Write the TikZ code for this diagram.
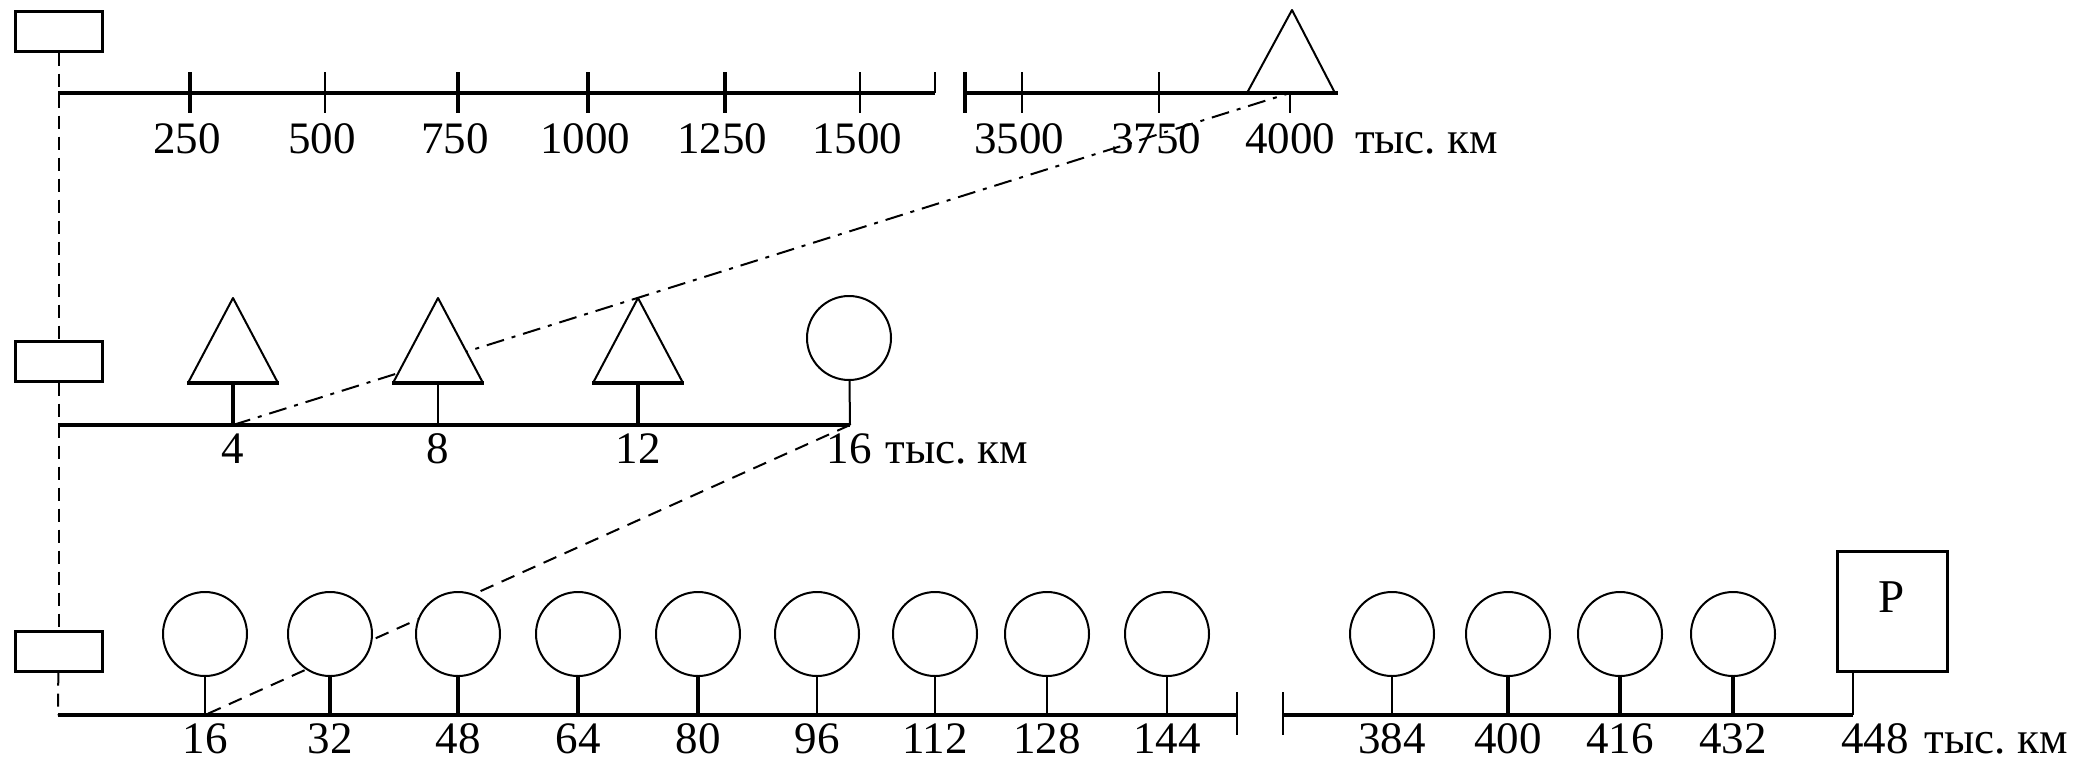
\documentclass[tikz,border=0pt]{standalone}
\usepackage{fontspec}
\setmainfont{Liberation Serif}
\usetikzlibrary{positioning, backgrounds}
\tikzset{
  every picture/.style={x=1pt, y=-1pt, line width=2pt},
  axis/.style={line width=3.5pt},
  slim/.style={line width=2pt},
  heavy/.style={line width=4pt},
  post/.style={draw, line width=3pt, fill=white, minimum width=87pt, minimum height=40pt, inner sep=0pt},
  num/.style={font=\fontsize{45}{54}\selectfont, inner sep=0pt, anchor=base},
  unit/.style={font=\fontsize{45}{54}\selectfont, inner sep=0pt},
  ring/.style={draw, circle, line width=2pt, fill=white, minimum size=84pt, inner sep=0pt},
  pbox/.style={draw, line width=3pt, fill=white, minimum width=110pt, minimum height=120pt, inner sep=0pt,
    text height=31pt, text depth=28pt, font=\fontsize{47}{54}\selectfont},
  vlink/.style={line width=2pt, dash pattern=on 13pt off 8pt},
  hop/.style={line width=2pt, dash pattern=on 18pt off 8pt on 4pt off 8pt},
  jump/.style={line width=2pt, dash pattern=on 14pt off 9pt},
}

\begin{document}
\begin{tikzpicture}
  \useasboundingbox (0,0) rectangle (2087,764);

  % stations on the left
  \node[post] (tb) at (58.5,31) {};
  \node[post] (mb) at (58.5,361) {};
  \node[post] (bb) at (58.5,651) {};

  % top axis, thousands of km
  \coordinate (t0) at (58,93);
  \coordinate (tL) at (935,93);
  \coordinate (tR) at (965,93);
  \coordinate (tE) at (1338,93);
  \coordinate (t4000) at (1290,93);
  \draw[axis] (t0) -- (tL);
  \draw[axis] (tR) -- (tE);
  \draw[slim] (tL) -- (935,72);
  \draw[heavy] (965,72) -- (965,113);
  \foreach \x/\v/\w in {190/250/4pt, 325/500/2pt, 458/750/4pt, 588/1000/4pt, 725/1250/4pt,
                        860/1500/2pt, 1022/3500/2pt, 1159/3750/2pt} {
    \draw[line width=\w] (\x,72) -- (\x,113);
    \node[num] (lt\v) at (\x-3,153) {\v};
  }
  \draw[slim] (t4000) -- (1290,113);
  \draw[slim, line join=round] (1247,93) -- (1292,10) -- (1335,93);
  \node[num] (lt4000) at (1290,153) {4000};
  \node[unit, right=18pt of lt4000.base east, anchor=base west] {тыс.~км};

  % middle axis
  \coordinate (m0) at (58,425);
  \coordinate (m16) at (850,425);
  \draw[axis] (m0) -- (m16);
  \foreach \x/\v/\w in {233/4/4pt, 438/8/2pt, 638/12/4pt} {
    \filldraw[slim, fill=white, line join=round] (\x-45,383) -- (\x,298) -- (\x+45,383);
    \draw[heavy] (\x-46,383) -- (\x+46,383);
    \coordinate (m\v) at (\x,425);
    \draw[line width=\w] (\x,383) -- (m\v);
    \node[num] (lm\v) at (\x,463) {\v};
  }
  \node[ring] (cm16) at (849,338) {};
  \draw[slim] (cm16) -- (m16);
  \node[num] (lm16) at (849,463) {16};
  \node[unit, right=12pt of lm16.base east, anchor=base west] {тыс.~км};

  % bottom axis
  \coordinate (b0) at (58,715);
  \coordinate (bL) at (1237,715);
  \coordinate (bR) at (1283,715);
  \coordinate (b448) at (1853,715);
  \draw[axis] (b0) -- (bL);
  \draw[axis] (bR) -- (b448);
  \draw[slim] (1237,692) -- (1237,735);
  \draw[slim] (1283,692) -- (1283,735);
  \foreach \x/\v/\w in {205/16/2pt, 330/32/4pt, 458/48/4pt, 578/64/4pt, 698/80/4pt, 817/96/2pt,
                        935/112/2pt, 1047/128/2pt, 1167/144/2pt, 1392/384/2pt, 1508/400/4pt,
                        1620/416/4pt, 1733/432/4pt} {
    \node[ring] (c\v) at (\x,634) {};
    \coordinate (b\v) at (\x,715);
    \draw[line width=\w] (c\v) -- (b\v);
    \node[num] (lb\v) at (\x,753) {\v};
  }
  \node[pbox] (rp) at (1892,611) {P};
  \draw[slim] (rp.south -| b448) -- (b448);
  \node[num] (lb448) at (1875,753) {448};
  \node[unit, right=14pt of lb448.base east, anchor=base west] {тыс.~км};

  % links between the scales
  \draw[vlink] (tb) -- (mb);
  \draw[vlink] (mb) -- (bb);
  \draw[vlink] (bb) -- (b0);
  \begin{scope}[on background layer]
    \draw[hop] (m4) -- (t4000);
    \draw[jump] (m16) -- (b16);
  \end{scope}
\end{tikzpicture}
\end{document}
